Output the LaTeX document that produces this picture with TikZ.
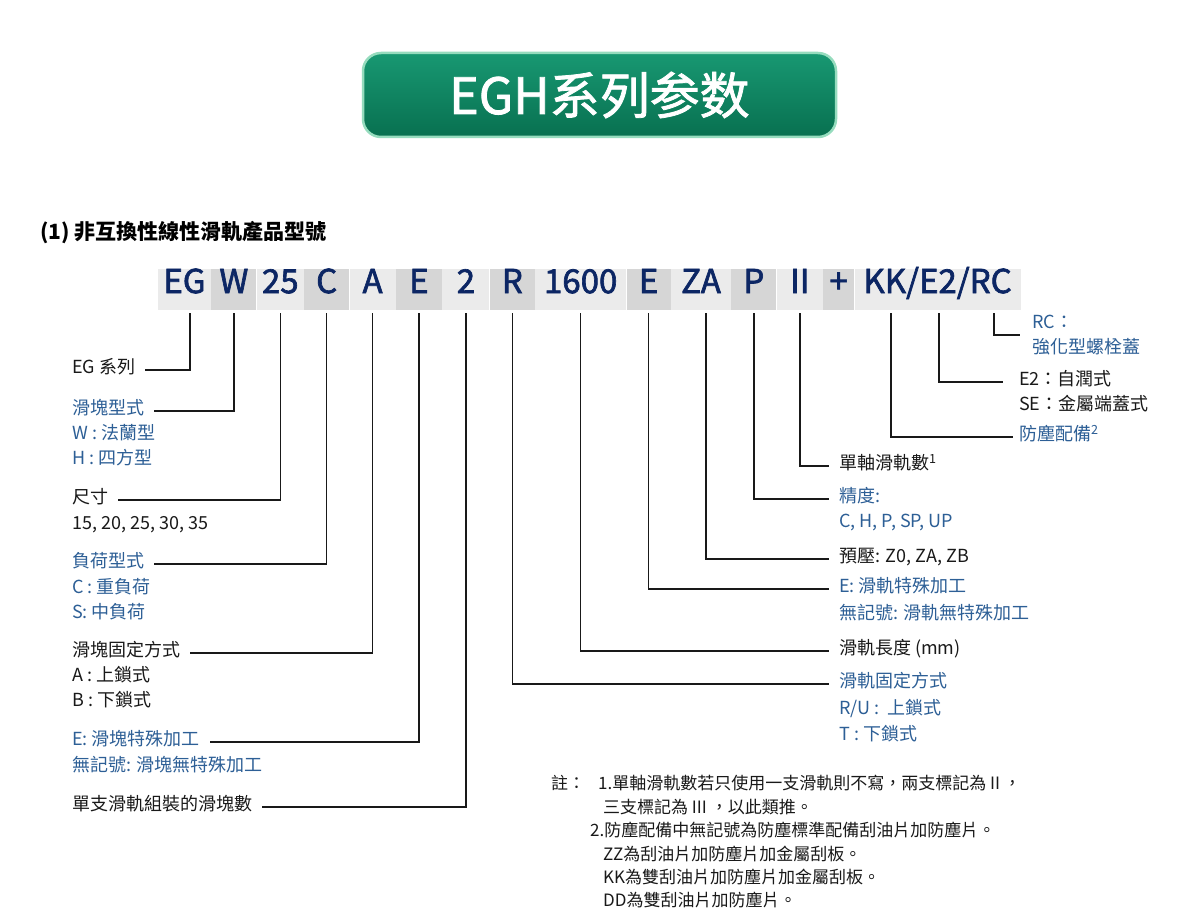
\documentclass[tikz,border=0pt]{standalone}
\usepackage{fontspec}
\setmainfont{Noto Sans CJK TC}
\newfontfamily\scfont{Noto Sans CJK SC}[FakeBold=1.6]
\newfontfamily\codefont{Noto Sans CJK TC}[FakeBold=2]
\usetikzlibrary{positioning}

\definecolor{codeblue}{RGB}{12,38,100}
\definecolor{lblblue}{RGB}{45,95,150}
\definecolor{lblblack}{RGB}{25,25,25}
\definecolor{cellA}{RGB}{235,235,235}
\definecolor{cellB}{RGB}{214,214,214}
\definecolor{titletop}{RGB}{24,152,114}
\definecolor{titlebot}{RGB}{8,112,80}
\definecolor{titlerim}{RGB}{150,220,190}

\tikzset{
  cell/.style={minimum height=41pt, inner sep=0pt, text=codeblue,
    font=\codefont\fontsize{33}{33}\selectfont, text height=0.72em, text depth=0pt},
  lcell/.style={cell, fill=cellA},
  dcell/.style={cell, fill=cellB},
  lbl/.style={anchor=west, inner sep=0pt, text=lblblack,
    font=\fontsize{18}{25}\selectfont, text height=0.88em, text depth=0.12em},
  bluelbl/.style={lbl, text=lblblue},
  note/.style={anchor=west, inner sep=0pt, text=lblblack,
    font=\fontsize{17}{23}\selectfont, text height=0.88em, text depth=0.12em},
  conn/.style={line width=1.5pt, lblblack, shorten <=3pt, shorten >=10pt},
}

\begin{document}
\begin{tikzpicture}[x=1pt, y=-1pt]
    \useasboundingbox (0,0) rectangle (1200,923);
    \fill[white] (0,0) rectangle (1200,923);

    % Title
    \node[minimum width=473pt, minimum height=84pt, rounded corners=18pt,
          top color=titletop, bottom color=titlebot, draw=titlerim, line width=2.5pt,
          text=white, font=\scfont\fontsize{50}{50}\selectfont] (title) at (599.5,95) {EGH系列参数};

    \node[anchor=west, inner sep=0pt, font=\bfseries\fontsize{21}{21}\selectfont] (head) at (40,233)
        {(1) 非互換性線性滑軌產品型號};

    % Code bar
    \node[lcell, minimum width=53pt] (cEG) at (184.5,289.5) {EG};
    \node[dcell, minimum width=45pt, right=0pt of cEG] (cW) {W};
    \node[lcell, minimum width=47pt, right=0pt of cW] (c25) {25};
    \node[dcell, minimum width=45pt, right=0pt of c25] (cC) {C};
    \node[lcell, minimum width=46pt, right=0pt of cC] (cA) {A};
    \node[dcell, minimum width=46pt, right=0pt of cA] (cE) {E};
    \node[lcell, minimum width=47pt, right=0pt of cE] (c2) {2};
    \node[dcell, minimum width=45pt, right=0pt of c2] (cR) {R};
    \node[lcell, minimum width=91pt, right=0pt of cR] (c1600) {1600};
    \node[dcell, minimum width=44pt, right=0pt of c1600] (cRE) {E};
    \node[lcell, minimum width=60pt, right=0pt of cRE] (cZA) {ZA};
    \node[dcell, minimum width=45pt, right=0pt of cZA] (cP) {P};
    \node[lcell, minimum width=46pt, right=0pt of cP] (cII) {II};
    \node[dcell, minimum width=31pt, right=0pt of cII] (cPlus) {+};
    \node[lcell, minimum width=166pt, right=0pt of cPlus] (cKK) {KK/E2/RC};

    \coordinate (kkTop) at (891,310);
    \coordinate (e2Top) at (939,310);
    \coordinate (rcTop) at (994,310);

    % Left labels
    \node[lbl] (lEG) at (72,370) {EG 系列};
    \node[bluelbl] (lW) at (72,411) {滑塊型式};
    \node[bluelbl] (lW1) at (72,436) {W : 法蘭型};
    \node[bluelbl] (lW2) at (72,461) {H : 四方型};
    \node[lbl] (l25) at (72,500) {尺寸};
    \node[lbl] (l251) at (72,526) {15, 20, 25, 30, 35};
    \node[bluelbl] (lC) at (72,564) {負荷型式};
    \node[bluelbl] (lC1) at (72,590) {C : 重負荷};
    \node[bluelbl] (lC2) at (72,615) {S: 中負荷};
    \node[lbl] (lA) at (72,653) {滑塊固定方式};
    \node[lbl] (lA1) at (72,678) {A : 上鎖式};
    \node[lbl] (lA2) at (72,703) {B : 下鎖式};
    \node[bluelbl] (lE) at (72,742) {E: 滑塊特殊加工};
    \node[bluelbl] (lE1) at (72,768) {無記號: 滑塊無特殊加工};
    \node[lbl] (l2) at (72,807) {單支滑軌組裝的滑塊數};

    % Right labels
    \node[bluelbl, align=left, font=\fontsize{18}{25}\selectfont, text height=, text depth=] (rRC) at (1032,335) {RC：\\強化型螺栓蓋};
    \node[lbl] (rE2) at (1019,382) {E2：自潤式};
    \node[lbl] (rE21) at (1019,407) {SE：金屬端蓋式};
    \node[bluelbl] (rKK) at (1019,437) {防塵配備\textsuperscript{2}};
    \node[lbl] (rII) at (839,466) {單軸滑軌數\textsuperscript{1}};
    \node[bluelbl] (rP) at (839,499) {精度:};
    \node[bluelbl] (rP1) at (839,524) {C, H, P, SP, UP};
    \node[lbl] (rZA) at (839,559) {預壓: Z0, ZA, ZB};
    \node[bluelbl] (rE) at (839,589) {E: 滑軌特殊加工};
    \node[bluelbl] (rE1) at (839,616) {無記號: 滑軌無特殊加工};
    \node[lbl] (r1600) at (839,651) {滑軌長度 (mm)};
    \node[bluelbl] (rR) at (839,684) {滑軌固定方式};
    \node[bluelbl] (rR1) at (839,711) {R/U :\ \ 上鎖式};
    \node[bluelbl] (rR2) at (839,737) {T : 下鎖式};

    % Connectors
    \draw[conn] ([xshift=5.5pt]cEG.south) |- (lEG.east);
    \draw[conn] (cW.south) |- (lW.east);
    \draw[conn] (c25.south) |- (l25.east);
    \draw[conn] (cC.south) |- (lC.east);
    \draw[conn] (cA.south) |- (lA.east);
    \draw[conn] (cE.south) |- (lE.east);
    \draw[conn] (c2.south) |- (l2.east);
    \draw[conn] (cR.south) |- (rR.west);
    \draw[conn] (c1600.south) |- (r1600.west);
    \draw[conn] (cRE.south) |- (rE.west);
    \draw[conn] ([xshift=5pt]cZA.south) |- (rZA.west);
    \draw[conn] (cP.south) |- (rP.west);
    \draw[conn] (cII.south) |- (rII.west);
    \draw[conn, shorten >=6pt] (kkTop) |- (rKK.west);
    \draw[conn, shorten >=16pt] (e2Top) |- (rE2.west);
    \draw[conn, shorten >=12pt] (rcTop) |- (rRC.west);

    % Notes
    \node[note] (nHead) at (551,786) {註：};
    \node[note] (n1a) at (598,786) {1.單軸滑軌數若只使用一支滑軌則不寫，兩支標記為 II ，};
    \node[note] (n1b) at (603,810) {三支標記為 III ，以此類推。};
    \node[note] (n2a) at (590,833) {2.防塵配備中無記號為防塵標準配備刮油片加防塵片。};
    \node[note] (n2b) at (603,857) {ZZ為刮油片加防塵片加金屬刮板。};
    \node[note] (n2c) at (603,880) {KK為雙刮油片加防塵片加金屬刮板。};
    \node[note] (n2d) at (603,903) {DD為雙刮油片加防塵片。};
\end{tikzpicture}
\end{document}
